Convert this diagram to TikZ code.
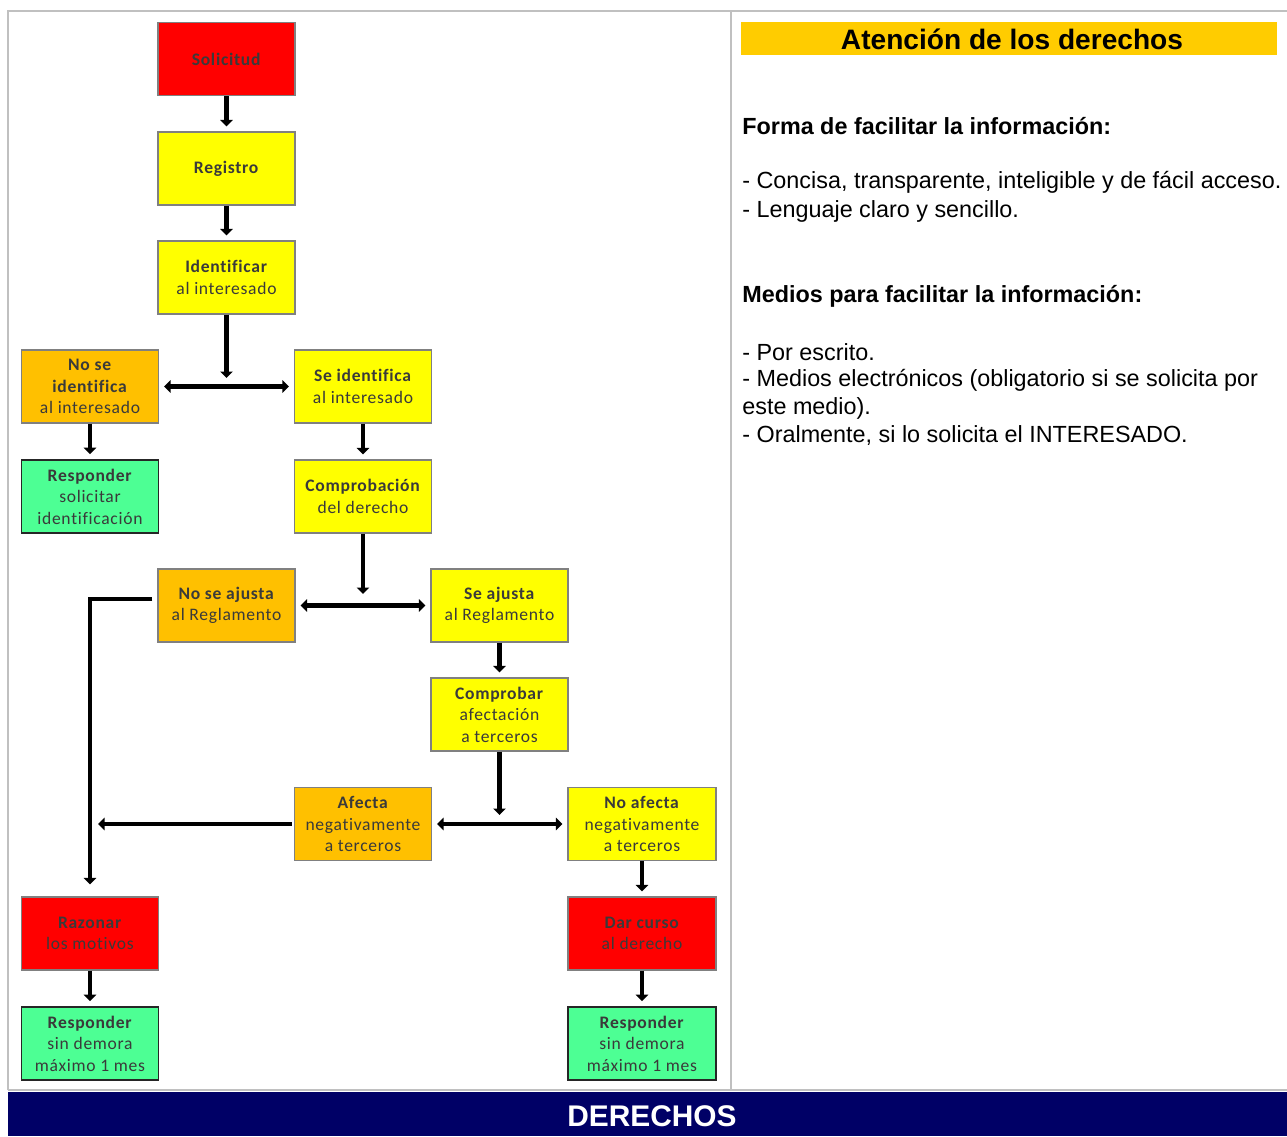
\documentclass[tikz,border=0pt]{standalone}
\usepackage{fontspec}
\setmainfont{Carlito}[LetterSpace=4, Ligatures=NoCommon]
\newfontfamily\arialfont{Liberation Sans}
\usetikzlibrary{arrows.meta}

\definecolor{boxred}{RGB}{255,0,0}
\definecolor{boxyellow}{RGB}{255,255,0}
\definecolor{boxorange}{RGB}{255,192,0}
\definecolor{boxgreen}{RGB}{77,255,148}
\definecolor{bandyellow}{RGB}{255,204,0}
\definecolor{bandnavy}{RGB}{0,0,102}
\definecolor{framegrey}{RGB}{192,192,192}
\definecolor{textgrey}{RGB}{58,58,58}

\begin{document}
\begin{tikzpicture}[x=0.02cm, y=-0.02cm,
    box/.style={draw=black!50, line width=0.7pt, text=textgrey, align=center,
        minimum width=2.74cm, minimum height=1.46cm, inner sep=0pt,
        font=\fontsize{10}{12.2}\selectfont},
    redbox/.style={box, fill=boxred},
    yellowbox/.style={box, fill=boxyellow},
    orangebox/.style={box, fill=boxorange},
    greenbox/.style={box, fill=boxgreen, draw=black!85, line width=1pt},
    wide/.style={minimum width=2.96cm},
    flow/.style={line width=0.09cm, -{Triangle[width=0.25cm,length=0.13cm]}, shorten >=0.1cm},
    split/.style={line width=0.09cm, {Triangle[width=0.25cm,length=0.13cm]}-{Triangle[width=0.25cm,length=0.13cm]},
        shorten <=0.1cm, shorten >=0.1cm},
    info/.style={anchor=west, inner sep=0pt, font=\arialfont\fontsize{13.3}{16}\selectfont},
    infohead/.style={info, font=\arialfont\bfseries\fontsize{13.3}{16}\selectfont}]
    \useasboundingbox (0,0) rectangle (1287,1136);

    % Draw the frame of both panels
    \draw[framegrey, line width=1.2pt] (8,1090) -- (8,11) -- (1287,11);
    \draw[framegrey, line width=1.2pt] (8,1090) -- (1287,1090);
    \draw[framegrey, line width=1.2pt] (731,11) -- (731,1090);

    % Draw the bottom band
    \fill[bandnavy] (8,1092) rectangle (1287,1136);
    \node[text=white, font=\arialfont\bfseries\fontsize{17}{19}\selectfont] (derechos) at (652,1116) {DERECHOS};

    % Draw the main column of the flow
    \node[redbox] (solicitud) at (226.5,59) {\textbf{Solicitud}};
    \node[yellowbox] (registro) at (226.5,168.5) {\textbf{Registro}};
    \node[yellowbox] (identificar) at (226.5,277.5) {\textbf{Identificar}\\al interesado};

    % Draw the identification branches
    \node[orangebox] (noident) at (90,386.5) {\textbf{No se}\\\textbf{identifica}\\al interesado};
    \node[yellowbox] (siident) at (363,386.5) {\textbf{Se identifica}\\al interesado};
    \node[greenbox] (respident) at (90,496.5) {\textbf{Responder}\\solicitar\\identificación};
    \node[yellowbox] (comprob) at (363,496.5) {\textbf{Comprobación}\\del derecho};

    % Draw the rule branches
    \node[orangebox] (noajusta) at (226.5,605.5) {\textbf{No se ajusta}\\al Reglamento};
    \node[yellowbox] (siajusta) at (499.5,605.5) {\textbf{Se ajusta}\\al Reglamento};
    \node[yellowbox] (afectac) at (499.5,714.5) {\textbf{Comprobar}\\afectación\\a terceros};

    % Draw the third party branches
    \node[orangebox] (afecta) at (363,824) {\textbf{Afecta}\\negativamente\\a terceros};
    \node[yellowbox, wide] (noafecta) at (642,824) {\textbf{No afecta}\\negativamente\\a terceros};

    % Draw the final steps
    \node[redbox] (razonar) at (90,933.5) {\textbf{Razonar}\\los motivos};
    \node[redbox, wide] (darcurso) at (642,933.5) {\textbf{Dar curso}\\al derecho};
    \node[greenbox] (respizq) at (90,1043.5) {\textbf{Responder}\\sin demora\\máximo 1 mes};
    \node[greenbox, wide] (respder) at (642,1043.5) {\textbf{Responder}\\sin demora\\máximo 1 mes};

    % Points where the arrows meet the splits
    \coordinate (junta) at (226.5,378);
    \coordinate (juntb) at (363,594);
    \coordinate (juntc) at (499.5,815);
    \coordinate (afectafin) at (98,824);

    % Draw the arrows
    \draw[flow] (solicitud) -- (registro);
    \draw[flow] (registro) -- (identificar);
    \draw[flow, shorten >=0pt] (identificar) -- (junta);
    \draw[split] (noident) -- (siident);
    \draw[flow] (noident) -- (respident);
    \draw[flow] (siident) -- (comprob);
    \draw[flow, shorten >=0pt] (comprob) -- (juntb);
    \draw[split] (noajusta) -- (siajusta);
    \draw[flow, shorten <=0.1cm, shorten >=0.24cm] ([yshift=0.13cm]noajusta.west) -| (razonar);
    \draw[flow] (siajusta) -- (afectac);
    \draw[flow, shorten >=0pt] (afectac) -- (juntc);
    \draw[split] (afecta) -- (noafecta);
    \draw[flow, shorten <=0.04cm, shorten >=0pt] (afecta) -- (afectafin);
    \draw[flow] (noafecta) -- (darcurso);
    \draw[flow] (razonar) -- (respizq);
    \draw[flow] (darcurso) -- (respder);

    % Draw the right panel
    \fill[bandyellow] (741,22) rectangle (1277,55);
    \node[font=\arialfont\bfseries\fontsize{16}{18}\selectfont] (titulo) at (1012,39) {Atención de los derechos};
    \node[infohead] (forma) at (742,126) {Forma de facilitar la información:};
    \node[info] (formaa) at (742,182) {- Concisa, transparente, inteligible y de fácil acceso.};
    \node[info] (formab) at (742,211) {- Lenguaje claro y sencillo.};
    \node[infohead] (medios) at (742,296) {Medios para facilitar la información:};
    \node[info] (mediosa) at (742,352) {- Por escrito.};
    \node[info] (mediosb) at (742,380) {- Medios electrónicos (obligatorio si se solicita por};
    \node[info] (mediosc) at (742,408) {este medio).};
    \node[info] (mediosd) at (742,436) {- Oralmente, si lo solicita el INTERESADO.};
\end{tikzpicture}
\end{document}
